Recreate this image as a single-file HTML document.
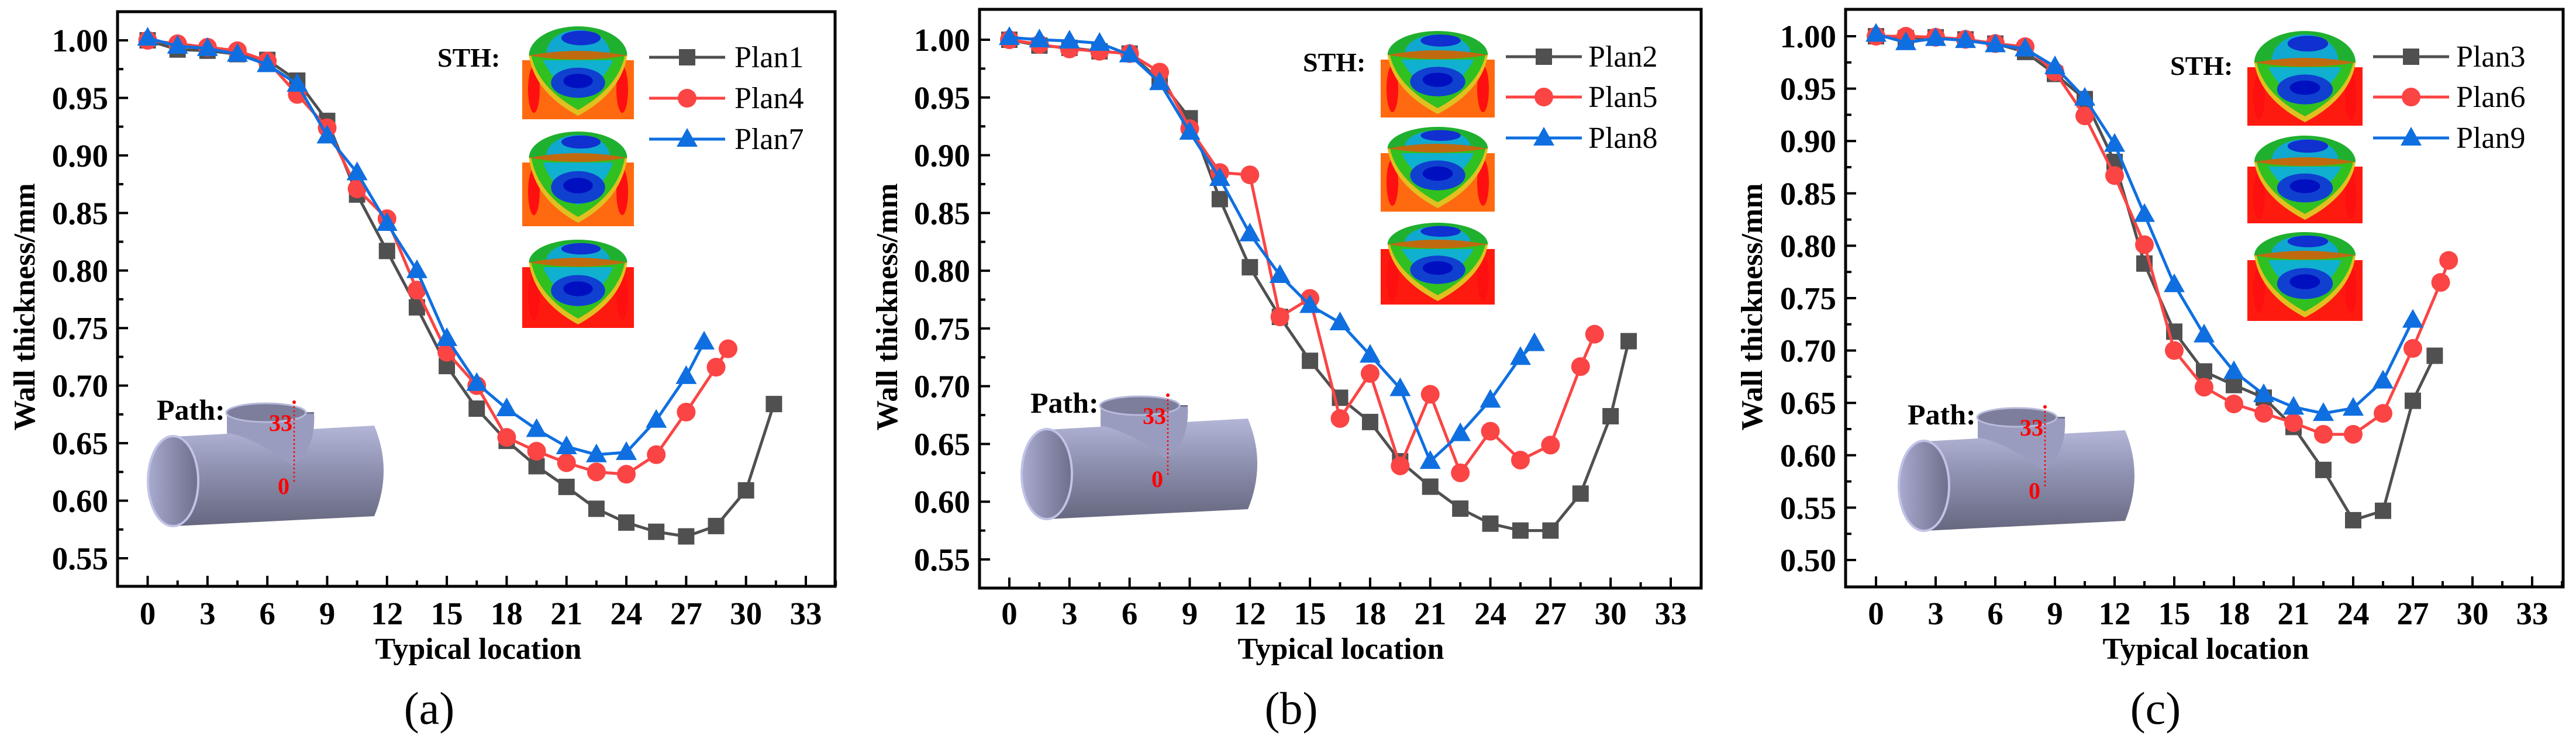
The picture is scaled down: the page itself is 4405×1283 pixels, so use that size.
<!DOCTYPE html>
<html><head><meta charset="utf-8"><style>
html,body{margin:0;padding:0;background:#fff;}
svg{display:block;}
svg text{font-family:"Liberation Serif","DejaVu Serif",serif;}
</style></head><body>
<svg id="fig" width="4405" height="1283" viewBox="0 0 4405 1283" xmlns="http://www.w3.org/2000/svg" font-family="'Liberation Serif', 'DejaVu Serif', serif">
<defs>
<linearGradient id="pipeG" x1="0" y1="0" x2="0" y2="1"><stop offset="0" stop-color="#b4b6d8"/><stop offset="0.45" stop-color="#8e90b0"/><stop offset="1" stop-color="#66677f"/></linearGradient>
<linearGradient id="holeG" x1="0" y1="0" x2="1" y2="0"><stop offset="0" stop-color="#a9abd0"/><stop offset="1" stop-color="#6d6e8a"/></linearGradient>
</defs>
</svg>
<script>
// ---------- data ----------
const xA1 = [0,1.5,3,4.5,6,7.5,9,10.5,12,13.5,15,16.5,18,19.5,21,22.5,24,25.5,27,28.5,30,31.4];
const plan1 = [1.000,0.992,0.991,0.988,0.983,0.965,0.930,0.866,0.817,0.768,0.717,0.680,0.652,0.630,0.612,0.593,0.581,0.573,0.569,0.578,0.609,0.684];
const xA4 = [0,1.5,3,4.5,6,7.5,9,10.5,12,13.5,15,16.5,18,19.5,21,22.5,24,25.5,27,28.5,29.1];
const plan4 = [1.000,0.997,0.994,0.991,0.982,0.953,0.924,0.871,0.845,0.783,0.729,0.700,0.655,0.643,0.633,0.625,0.623,0.640,0.677,0.716,0.732];
const xA7 = [0,1.5,3,4.5,6,7.5,9,10.5,12,13.5,15,16.5,18,19.5,21,22.5,24,25.5,27,27.9];
const plan7 = [1.002,0.995,0.993,0.988,0.979,0.962,0.917,0.885,0.841,0.800,0.741,0.702,0.680,0.662,0.647,0.640,0.642,0.670,0.708,0.738];

const xB2 = [0,1.5,3,4.5,6,7.5,9,10.5,12,13.5,15,16.5,18,19.5,21,22.5,24,25.5,27,28.5,30,30.9];
const plan2 = [1.000,0.995,0.993,0.990,0.988,0.965,0.932,0.862,0.803,0.760,0.722,0.690,0.669,0.635,0.613,0.594,0.581,0.575,0.575,0.607,0.674,0.739];
const xB5 = [0,1.5,3,4.5,6,7.5,9,10.5,12,13.5,15,16.5,18,19.5,21,22.5,24,25.5,27,28.5,29.2];
const plan5 = [1.000,0.996,0.992,0.990,0.988,0.972,0.923,0.885,0.883,0.760,0.776,0.672,0.711,0.631,0.693,0.625,0.661,0.636,0.649,0.717,0.745];
const xB8 = [0,1.5,3,4.5,6,7.5,9,10.5,12,13.5,15,16.5,18,19.5,21,22.5,24,25.5,26.2];
const plan8 = [1.002,1.000,0.999,0.997,0.987,0.963,0.920,0.880,0.832,0.796,0.770,0.755,0.727,0.698,0.635,0.659,0.688,0.725,0.737];

const xC3 = [0,1.5,3,4.5,6,7.5,9,10.5,12,13.5,15,16.5,18,19.5,21,22.5,24,25.5,27,28.1];
const plan3 = [1.000,0.998,0.999,0.997,0.993,0.985,0.964,0.940,0.880,0.783,0.718,0.680,0.667,0.655,0.627,0.586,0.538,0.547,0.652,0.695];
const xC6 = [0,1.5,3,4.5,6,7.5,9,10.5,12,13.5,15,16.5,18,19.5,21,22.5,24,25.5,27,28.4,28.8];
const plan6 = [1.000,1.000,0.999,0.997,0.993,0.990,0.966,0.924,0.867,0.801,0.700,0.665,0.649,0.640,0.631,0.620,0.620,0.640,0.702,0.765,0.786];
const xC9 = [0,1.5,3,4.5,6,7.5,9,10.5,12,13.5,15,16.5,18,19.5,21,22.5,24,25.5,27];
const plan9 = [1.002,0.994,0.998,0.996,0.992,0.988,0.971,0.941,0.897,0.830,0.763,0.715,0.680,0.658,0.646,0.640,0.645,0.671,0.729];

const xTicks = [0,3,6,9,12,15,18,21,24,27,30,33];
const yTicksAB = [0.55,0.60,0.65,0.70,0.75,0.80,0.85,0.90,0.95,1.00];
const yTicksC = [0.50,0.55,0.60,0.65,0.70,0.75,0.80,0.85,0.90,0.95,1.00];

const GRAY='#505050', RED='#fb4444', BLUE='#0f6fe0';
const FONT="'Liberation Serif', 'DejaVu Serif', serif";
const svg=document.getElementById('fig');
const NS='http://www.w3.org/2000/svg';
function mk(tag,attrs,parent){const e=document.createElementNS(NS,tag);for(const k in attrs)e.setAttribute(k,attrs[k]);if(tag==='text')e.setAttribute('font-family',FONT);(parent||svg).appendChild(e);return e;}

const panels=[
 {id:'a',L:201,R:1428,T:20,B:1003,x0:252.5,x33:1378,v1:1.00,y1:69,v2:0.55,y2:955,yt:yTicksAB,yFmt:2,
  series:[[xA1,plan1,GRAY,'square','Plan1'],[xA4,plan4,RED,'circle','Plan4'],[xA7,plan7,BLUE,'tri','Plan7']],
  sth:[748,98],leg:{lx1:1110,lx2:1240,tx:1256,rows:[98,168,238]},
  thumbs:[[893,1084,45,103,204,'#ff6a10'],[893,1084,225,278,387,'#ff6a10'],[893,1084,410,457,561,'#ff1a10']],
  pipe:[253,0],ytitleX:42,xtitleX:818,label:'(a)',labelX:734},
 {id:'b',L:1675,R:2909,T:16,B:1006,x0:1726,x33:2857,v1:1.00,y1:68,v2:0.55,y2:957,yt:yTicksAB,yFmt:2,
  series:[[xB2,plan2,GRAY,'square','Plan2'],[xB5,plan5,RED,'circle','Plan5'],[xB8,plan8,BLUE,'tri','Plan8']],
  sth:[2228,106],leg:{lx1:2575,lx2:2705,tx:2716,rows:[97,166,236]},
  thumbs:[[2361,2556,53,102,201,'#ff6a10'],[2361,2556,217,262,362,'#ff6a10'],[2361,2556,381,426,521,'#ff1a10']],
  pipe:[1747,-12],ytitleX:1517,xtitleX:2293,label:'(b)',labelX:2208},
 {id:'c',L:3156,R:4383,T:16,B:1004,x0:3208,x33:4330,v1:1.00,y1:62,v2:0.50,y2:958,yt:yTicksC,yFmt:2,
  series:[[xC3,plan3,GRAY,'square','Plan3'],[xC6,plan6,RED,'circle','Plan6'],[xC9,plan9,BLUE,'tri','Plan9']],
  sth:[3711,112],leg:{lx1:4058,lx2:4188,tx:4200,rows:[97,166,236]},
  thumbs:[[3843,4040,53,115,215,'#ff1a10'],[3843,4040,232,285,382,'#ff1a10'],[3843,4040,397,445,549,'#ff1a10']],
  pipe:[3247,8],ytitleX:2996,xtitleX:3772,label:'(c)',labelX:3686}
];

function marker(g,shape,x,y,c){
  let e;
  if(shape==='square'){e=mk('rect',{x:x-14,y:y-14,width:28,height:28,fill:c},g);}
  else if(shape==='circle'){e=mk('circle',{cx:x,cy:y,r:16,fill:c},g);}
  else {e=mk('polygon',{points:`${x},${y-19} ${x-18},${y+13} ${x+18},${y+13}`,fill:c},g);}
  
  
}

function thumb(g,t,i){
  const [x1,x2,dt,rt,rb,rc]=t; const w=x2-x1, cx=(x1+x2)/2;
  const tg=mk('g',{},g);
  
  
  mk('rect',{x:x1,y:rt,width:w,height:rb-rt,fill:rc},tg);
  mk('ellipse',{cx:x1+20,cy:rt+50,rx:10,ry:40,fill:'#ff1010'},tg);
  mk('ellipse',{cx:x2-20,cy:rt+50,rx:10,ry:40,fill:'#ff1010'},tg);
  const rx=w*0.44, rim=rt-8;
  const vb=rb-6;
  mk('path',{d:`M${cx-rx},${rim} Q${cx-rx+10},${vb-40} ${cx},${vb} Q${cx+rx-10},${vb-40} ${cx+rx},${rim} Z`,fill:'#e0c020'},tg);
  mk('path',{d:`M${cx-rx+4},${rim} Q${cx-rx+16},${vb-48} ${cx},${vb-10} Q${cx+rx-16},${vb-48} ${cx+rx-4},${rim} Z`,fill:'#30c020'},tg);
  mk('path',{d:`M${cx-rx+24},${rim+8} Q${cx-rx+40},${vb-60} ${cx},${vb-30} Q${cx+rx-40},${vb-60} ${cx+rx-24},${rim+8} Z`,fill:'#10b0d0'},tg);
  mk('ellipse',{cx:cx,cy:(rim+vb)/2-5,rx:rx*0.55,ry:(vb-rim)*0.25,fill:'#1040d0'},tg);
  mk('ellipse',{cx:cx,cy:(rim+vb)/2-8,rx:rx*0.3,ry:(vb-rim)*0.12,fill:'#0010c0'},tg);
  mk('path',{d:`M${cx-rx},${rim} A${rx},${rim-dt} 0 0 1 ${cx+rx},${rim} Z`,fill:'#20b030'},tg);
  mk('path',{d:`M${cx-rx+30},${rim-4} A${rx-30},${rim-dt-10} 0 0 1 ${cx+rx-30},${rim-4} Z`,fill:'#10a8d0'},tg);
  mk('ellipse',{cx:cx+5,cy:dt+(rim-dt)*0.4,rx:rx*0.4,ry:(rim-dt)*0.25,fill:'#1030d0'},tg);
  mk('path',{d:`M${cx-rx},${rim} Q${cx},${rim+14} ${cx+rx},${rim} Q${cx},${rim-16} ${cx-rx},${rim} Z`,fill:'#c06a10'},tg);
}

function pipe(g,ox,dy){
  const pg=mk('g',{},g);
  
  
  const o=ox-253; const Y=v=>v+dy; const X=v=>v+o;
  mk('path',{d:`M${X(388)},${Y(705)} L${X(388)},${Y(750)} L${X(500)},${Y(790)} Q${X(540)},${Y(770)} ${X(537)},${Y(708)} L${X(537)},${Y(705)} Z`,fill:'url(#holeG)'},pg);
  mk('path',{d:`M${X(298)},${Y(747)} L${X(640)},${Y(728)} Q${X(672)},${Y(805)} ${X(640)},${Y(883)} L${X(298)},${Y(900)} Z`,fill:'url(#pipeG)'},pg);
  mk('path',{d:`M${X(388)},${Y(705)} L${X(388)},${Y(740)} Q${X(440)},${Y(750)} ${X(500)},${Y(797)} Q${X(540)},${Y(770)} ${X(537)},${Y(708)} Z`,fill:'#9a9cbf'},pg);
  mk('ellipse',{cx:X(455),cy:Y(706),rx:68,ry:16,fill:'#7c7e9c',stroke:'#b8bada','stroke-width':3},pg);
  mk('ellipse',{cx:X(296),cy:Y(823),rx:43,ry:77,fill:'url(#holeG)',stroke:'#c0c2e6','stroke-width':4},pg);
  mk('line',{x1:X(503),y1:Y(688),x2:X(503),y2:Y(828),stroke:'#ff0000','stroke-width':2.5,'stroke-dasharray':'3,4'},pg);
  mk('circle',{cx:X(503),cy:Y(688),r:3,fill:'#ff0000'},pg);
  const t33=mk('text',{x:X(480),y:Y(737),'font-size':40,'font-weight':'bold',fill:'#ff0000','text-anchor':'middle'},pg);t33.textContent='33';
  
  
  const t0=mk('text',{x:X(485),y:Y(845),'font-size':40,'font-weight':'bold',fill:'#ff0000','text-anchor':'middle'},pg);t0.textContent='0';
  
  
  const tp=mk('text',{x:X(268),y:Y(718),'font-size':50,'font-weight':'bold',fill:'#000'},pg);tp.textContent='Path:';
  
  
}

panels.forEach(p=>{
  const g=mk('g',{});
  
  
  const sx=v=>p.x0+(v/33)*(p.x33-p.x0);
  const sy=v=>p.y1+(v-p.v1)/(p.v2-p.v1)*(p.y2-p.y1);
  const axg=mk('g',{},g);
  
  
  xTicks.forEach((t,i)=>{
    mk('line',{x1:sx(t),y1:p.B,x2:sx(t),y2:p.B-18,stroke:'#000','stroke-width':4},axg);
    mk('line',{x1:sx(t+1.5),y1:p.B,x2:sx(t+1.5),y2:p.B-10,stroke:'#000','stroke-width':4},axg);
    const tx=mk('text',{x:sx(t),y:1068,'font-size':55,'font-weight':'bold','text-anchor':'middle'},axg);
    tx.textContent=String(t);
    
    
  });
  p.yt.forEach(t=>{
    mk('line',{x1:p.L,y1:sy(t),x2:p.L+18,y2:sy(t),stroke:'#000','stroke-width':4},axg);
    const m=sy(t+0.025); if(m>p.T+5) mk('line',{x1:p.L,y1:m,x2:p.L+10,y2:m,stroke:'#000','stroke-width':4},axg);
    const ty=mk('text',{x:p.L-16,y:sy(t)+19,'font-size':55,'font-weight':'bold','text-anchor':'end'},axg);
    ty.textContent=t.toFixed(p.yFmt);
    
    
  });
  const m0=sy(p.yt[0]-0.025); if(m0<p.B-5) mk('line',{x1:p.L,y1:m0,x2:p.L+10,y2:m0,stroke:'#000','stroke-width':4},axg);
  const fr=mk('rect',{x:p.L,y:p.T,width:p.R-p.L,height:p.B-p.T,fill:'none',stroke:'#000','stroke-width':5},axg);
  
  
  const yt=mk('text',{x:p.ytitleX,y:525,'font-size':52,'font-weight':'bold','text-anchor':'middle',transform:`rotate(-90 ${p.ytitleX} 525) translate(0 17)`},g);
  yt.textContent='Wall thickness/mm';
  
  
  const xt=mk('text',{x:p.xtitleX,y:1127,'font-size':52,'font-weight':'bold','text-anchor':'middle'},g);
  xt.textContent='Typical location';
  
  
  const lb=mk('text',{x:p.labelX,y:1238,'font-size':78,'text-anchor':'middle'},g);
  lb.textContent=p.label;
  
  
  pipe(g,p.pipe[0],p.pipe[1]);
  p.thumbs.forEach((t,i)=>thumb(g,t,i));
  const st=mk('text',{x:p.sth[0],y:p.sth[1]+16,'font-size':46,'font-weight':'bold'},g);
  st.textContent='STH:';
  
  
  p.series.forEach((s,si)=>{
    const [xs,ys,c,shape,name]=s;
    const sg=mk('g',{},g);
    
    
    const pts=xs.map((x,i)=>sx(x)+','+sy(ys[i])).join(' ');
    mk('polyline',{points:pts,fill:'none',stroke:c,'stroke-width':5,'stroke-linejoin':'round'},sg);
    xs.forEach((x,i)=>marker(sg,shape,sx(x),sy(ys[i]),c));
    const lg=mk('g',{},g);
    
    
    const ry=p.leg.rows[si];
    mk('line',{x1:p.leg.lx1,y1:ry,x2:p.leg.lx2,y2:ry,stroke:c,'stroke-width':5},lg);
    marker(lg,shape,(p.leg.lx1+p.leg.lx2)/2,ry,c);
    const lt=mk('text',{x:p.leg.tx,y:ry+17,'font-size':52},lg);
    lt.textContent=name;
  });
});
</script>
</body></html>
